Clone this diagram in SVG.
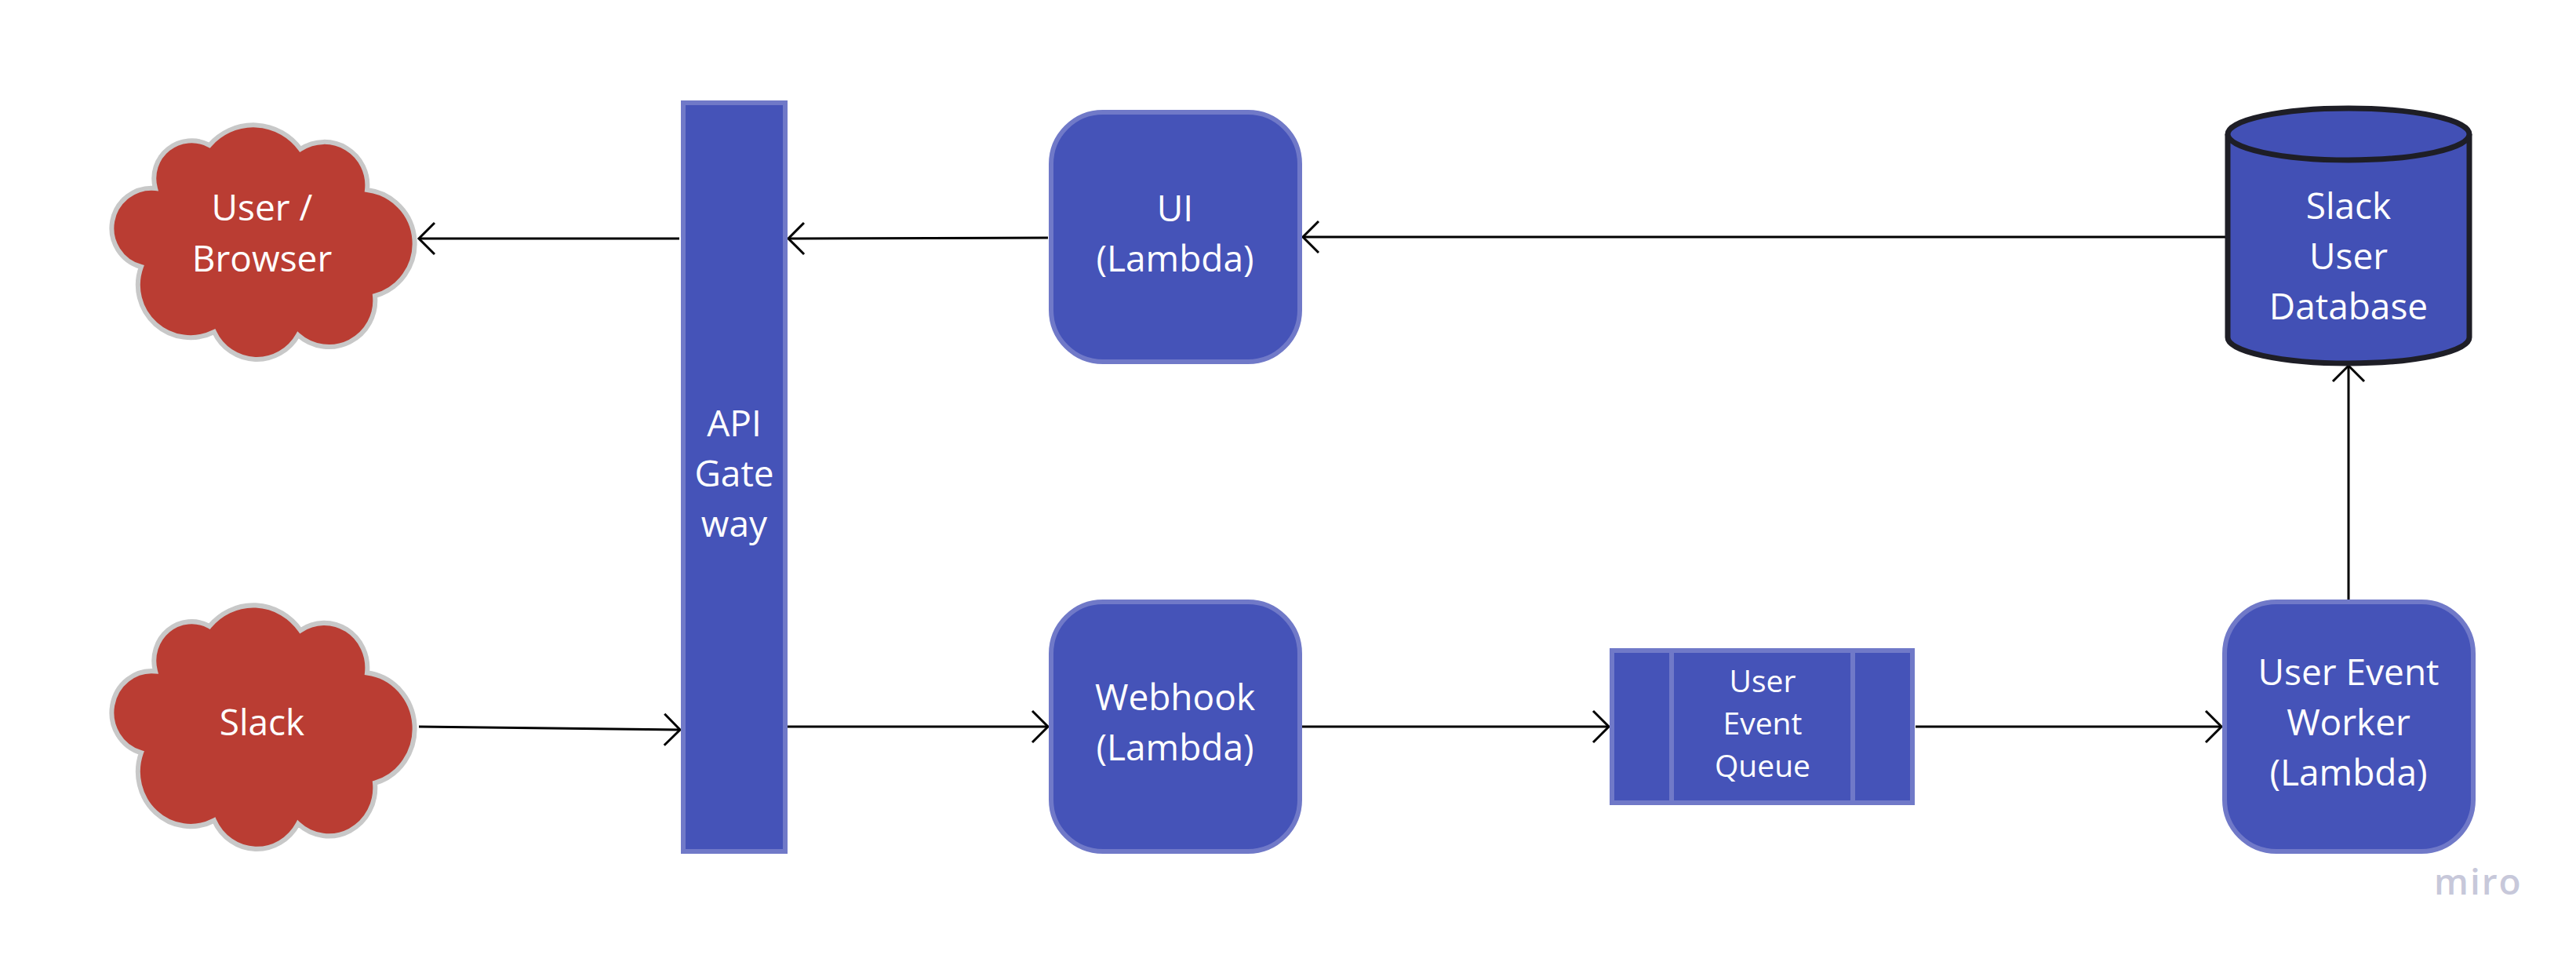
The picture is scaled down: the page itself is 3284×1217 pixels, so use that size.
<svg xmlns="http://www.w3.org/2000/svg" width="3284" height="1217" viewBox="0 0 3284 1217">
<style>
  .box { fill: #4553B8; stroke: #7079C8; stroke-width: 6; }
  .cloud { fill: #BA3D33; stroke: #C8C8C8; stroke-width: 6; }
  .db { fill: #4250B5; stroke: #1E1E26; stroke-width: 7; }
  .lbl { font-family: "Open Sans", "Noto Sans", "Liberation Sans", sans-serif; font-size: 46px; fill: #FFFFFF; text-anchor: middle; }
  .qlbl { font-family: "Open Sans", "Noto Sans", "Liberation Sans", sans-serif; font-size: 39px; fill: #FFFFFF; text-anchor: middle; }
  .edge { fill: none; stroke: #000000; stroke-width: 3; }
  .logo { font-family: "Open Sans", "Noto Sans", "Liberation Sans", sans-serif; font-size: 46px; font-weight: 600; fill: #C7C8DA; letter-spacing: 2px; }
</style>
<defs>
  <marker id="arrow" markerUnits="userSpaceOnUse" markerWidth="30" markerHeight="50" viewBox="-24 -25 30 50" refX="0" refY="0" orient="auto">
    <path d="M -20 -20 L 0 0 L -20 20" fill="none" stroke="#000000" stroke-width="3"/>
  </marker>
  <path id="cloudShape" d="M 62 82 A 48 48 0 0 1 131 27 A 74 74 0 0 1 247 32 A 55 55 0 0 1 332 84 A 69 69 0 0 1 342 219 A 59 59 0 0 1 244 269 A 60 60 0 0 1 137 265 A 67 67 0 0 1 44 182 A 51 51 0 0 1 62 82 Z"/>
</defs>
<rect width="3284" height="1217" fill="#FFFFFF"/>

<g id="connectors">
  <line class="edge" x1="866" y1="304" x2="534" y2="304" marker-end="url(#arrow)"/>
  <line class="edge" x1="1336" y1="303" x2="1005" y2="304" marker-end="url(#arrow)"/>
  <line class="edge" x1="2837" y1="302" x2="1661" y2="302" marker-end="url(#arrow)"/>
  <line class="edge" x1="534" y1="926" x2="867" y2="930" marker-end="url(#arrow)"/>
  <line class="edge" x1="1004" y1="926" x2="1336" y2="926" marker-end="url(#arrow)"/>
  <line class="edge" x1="1660" y1="926" x2="2051" y2="926" marker-end="url(#arrow)"/>
  <line class="edge" x1="2442" y1="926" x2="2832" y2="926" marker-end="url(#arrow)"/>
  <line class="edge" x1="2994" y1="764" x2="2994" y2="466" marker-end="url(#arrow)"/>
</g>

<g id="user-browser">
  <use href="#cloudShape" class="cloud" transform="translate(136,158)"/>
  <text class="lbl" x="334" y="281">User /</text>
  <text class="lbl" x="334" y="346">Browser</text>
</g>

<g id="slack">
  <use href="#cloudShape" class="cloud" transform="translate(136,770) scale(1,1.04)" style="vector-effect:non-scaling-stroke"/>
  <text class="lbl" x="334" y="937">Slack</text>
</g>

<g id="api-gateway">
  <rect class="box" x="871" y="131" width="130" height="954"/>
  <text class="lbl" x="936" y="556">API</text>
  <text class="lbl" x="936" y="620">Gate</text>
  <text class="lbl" x="936" y="684">way</text>
</g>

<g id="ui-lambda">
  <rect class="box" x="1340" y="143" width="317" height="318" rx="66" ry="66"/>
  <text class="lbl" x="1498" y="282">UI</text>
  <text class="lbl" x="1498" y="346">(Lambda)</text>
</g>

<g id="webhook-lambda">
  <rect class="box" x="1340" y="767" width="317" height="318" rx="66" ry="66"/>
  <text class="lbl" x="1498" y="905">Webhook</text>
  <text class="lbl" x="1498" y="969">(Lambda)</text>
</g>

<g id="user-event-queue">
  <rect class="box" x="2055" y="829" width="383" height="194"/>
  <line x1="2131" y1="829" x2="2131" y2="1023" stroke="#7079C8" stroke-width="6"/>
  <line x1="2362" y1="829" x2="2362" y2="1023" stroke="#7079C8" stroke-width="6"/>
  <text class="qlbl" x="2247" y="882">User</text>
  <text class="qlbl" x="2247" y="936">Event</text>
  <text class="qlbl" x="2247" y="990">Queue</text>
</g>

<g id="user-event-worker">
  <rect class="box" x="2836" y="767" width="317" height="318" rx="66" ry="66"/>
  <text class="lbl" x="2994" y="873">User Event</text>
  <text class="lbl" x="2994" y="937">Worker</text>
  <text class="lbl" x="2994" y="1001">(Lambda)</text>
</g>

<g id="slack-user-database">
  <path class="db" d="M 2840 171 A 154 33 0 0 1 3148 171 L 3148 430 A 154 33 0 0 1 2840 430 Z"/>
  <path class="db" d="M 2840 171 A 154 33 0 0 0 3148 171" fill="none"/>
  <text class="lbl" x="2994" y="279">Slack</text>
  <text class="lbl" x="2994" y="343">User</text>
  <text class="lbl" x="2994" y="407">Database</text>
</g>

<text class="logo" x="3103" y="1140">miro</text>
</svg>
